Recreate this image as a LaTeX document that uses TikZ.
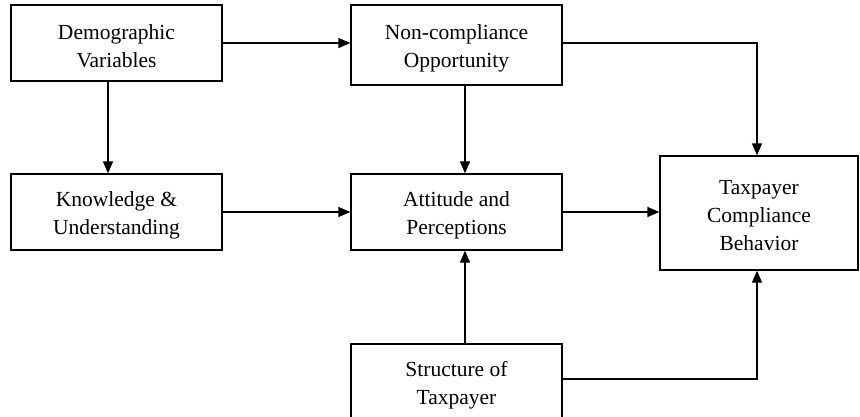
\documentclass[tikz,border=0pt]{standalone}
\usepackage{fontspec}
\setmainfont{Liberation Serif}
\usetikzlibrary{arrows.meta}
\begin{document}
\begin{tikzpicture}[x=1pt,y=-1pt,
  box/.style={draw,line width=1.3pt,rectangle,inner sep=0pt},
  txt/.style={align=center,inner sep=0pt,yshift=-3pt,
    font=\fontsize{21.5}{28}\selectfont},
  conn/.style={line width=1.3pt},
  arr/.style={conn,-{Triangle[length=12pt,width=10pt]}}]
\useasboundingbox (0,0) rectangle (860,416);
\clip (0,0) rectangle (860,416);
\node[box,minimum width=211pt,minimum height=76pt,label={[txt]center:{Demographic\\Variables}}] (demo) at (116.5,43) {};
\node[box,minimum width=211pt,minimum height=80pt,label={[txt]center:{Non-compliance\\Opportunity}}] (nonc) at (456.5,45) {};
\node[box,minimum width=211pt,minimum height=76pt,label={[txt]center:{Knowledge \&\\Understanding}}] (know) at (116.5,212) {};
\node[box,minimum width=211pt,minimum height=76pt,label={[txt]center:{Attitude and\\Perceptions}}] (att) at (456.5,212) {};
\node[box,minimum width=198pt,minimum height=114pt,label={[txt]center:{Taxpayer\\Compliance\\Behavior}}] (tax) at (759,213) {};
\node[box,minimum width=211pt,minimum height=76pt,label={[txt]center:{Structure of\\Taxpayer}}] (str) at (456.5,382) {};
\coordinate (cx) at (465,0);
\coordinate (cv) at (757,0);
\coordinate (cd) at (108,0);
\draw[arr] (demo.east) -- (demo.east -| nonc.west);
\draw[arr] (demo.south -| cd) -- (know.north -| cd);
\draw[arr] (nonc.south -| cx) -- (att.north -| cx);
\draw[arr] (nonc.east |- demo.east) -- (demo.east -| cv) -- (tax.north -| cv);
\draw[arr] (know.east) -- (att.west);
\draw[arr] (att.east) -- (att.east -| tax.west);
\draw[arr] (str.north -| cx) -- (att.south -| cx);
\draw[arr] (str.east |- 0,379) -- (cv |- 0,379) -- (tax.south -| cv);
\end{tikzpicture}
\end{document}
